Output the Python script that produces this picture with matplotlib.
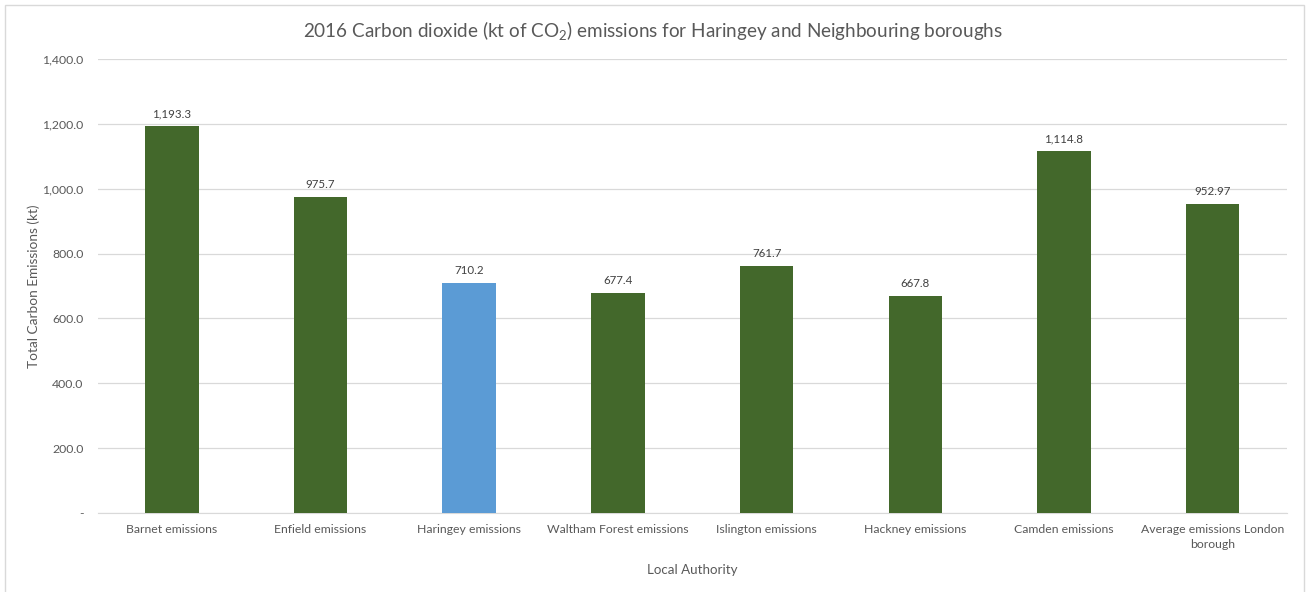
import matplotlib
matplotlib.use("Agg")
import matplotlib.pyplot as plt
from matplotlib.patches import Rectangle
from matplotlib.ticker import FuncFormatter

plt.rcParams['font.family'] = ['Lato', 'DejaVu Sans']
plt.rcParams['mathtext.fontset'] = 'custom'
plt.rcParams['mathtext.rm'] = 'Lato'
plt.rcParams['mathtext.it'] = 'Lato'

categories = ["Barnet emissions", "Enfield emissions", "Haringey emissions",
              "Waltham Forest emissions", "Islington emissions", "Hackney emissions",
              "Camden emissions", "Average emissions London\nborough"]
values = [1193.3, 975.7, 710.2, 677.4, 761.7, 667.8, 1114.8, 952.97]
value_labels = ["1,193.3", "975.7", "710.2", "677.4", "761.7", "667.8", "1,114.8", "952.97"]
highlight = "Haringey emissions"

green = "#43682B"
blue = "#5B9BD5"
text_col = "#595959"
grid_col = "#D9D9D9"

W, H = 1306, 592
fig = plt.figure(figsize=(W / 100, H / 100), dpi=100)

# chart frame
fig.patches.append(Rectangle((5 / W, -0.01), (1304 - 5) / W, 1 - 5 / H + 0.01,
                             transform=fig.transFigure, fill=False,
                             edgecolor="#D9D9D9", linewidth=1))

left, right = 97.5 / W, 1287 / W
bottom, top = 1 - 513 / H, 1 - 59 / H
ax = fig.add_axes([left, bottom, right - left, top - bottom])

x = list(range(len(categories)))
colors = [blue if c == highlight else green for c in categories]
bars = ax.bar(x, values, width=0.36, color=colors, zorder=3)

for xi, v, lab in zip(x, values, value_labels):
    ax.annotate(lab, (xi, v), xytext=(0, 5), textcoords="offset points",
                ha="center", va="bottom", fontsize=8.3, color="#404040")

ax.set_xlim(-0.5, len(categories) - 0.5)
ax.set_ylim(0, 1400)
ax.set_yticks(range(0, 1401, 200))
ax.yaxis.set_major_formatter(FuncFormatter(lambda v, p: "-" if v == 0 else f"{v:,.1f}"))
ax.set_xticks(x)
ax.set_xticklabels(categories, fontsize=8.8, color=text_col, linespacing=1.45)
ax.tick_params(axis="y", labelsize=8.8, labelcolor=text_col, length=0, pad=10)
ax.tick_params(axis="x", length=0, pad=8)

ax.grid(axis="y", color=grid_col, linewidth=0.9, zorder=0)
for s in ["top", "right", "left"]:
    ax.spines[s].set_visible(False)
ax.spines["bottom"].set_color(grid_col)

ax.set_ylabel("Total Carbon Emissions (kt)", fontsize=9.8, color=text_col, labelpad=2)
ax.set_xlabel("Local Authority", fontsize=9.6, color=text_col, labelpad=10)

fig.text(0.5, 1 - 31 / H, "2016 Carbon dioxide (kt of CO$_2$) emissions for Haringey and Neighbouring boroughs",
         ha="center", va="center", fontsize=13.6, color=text_col)

fig.savefig("out.png", dpi=100, facecolor="white")
